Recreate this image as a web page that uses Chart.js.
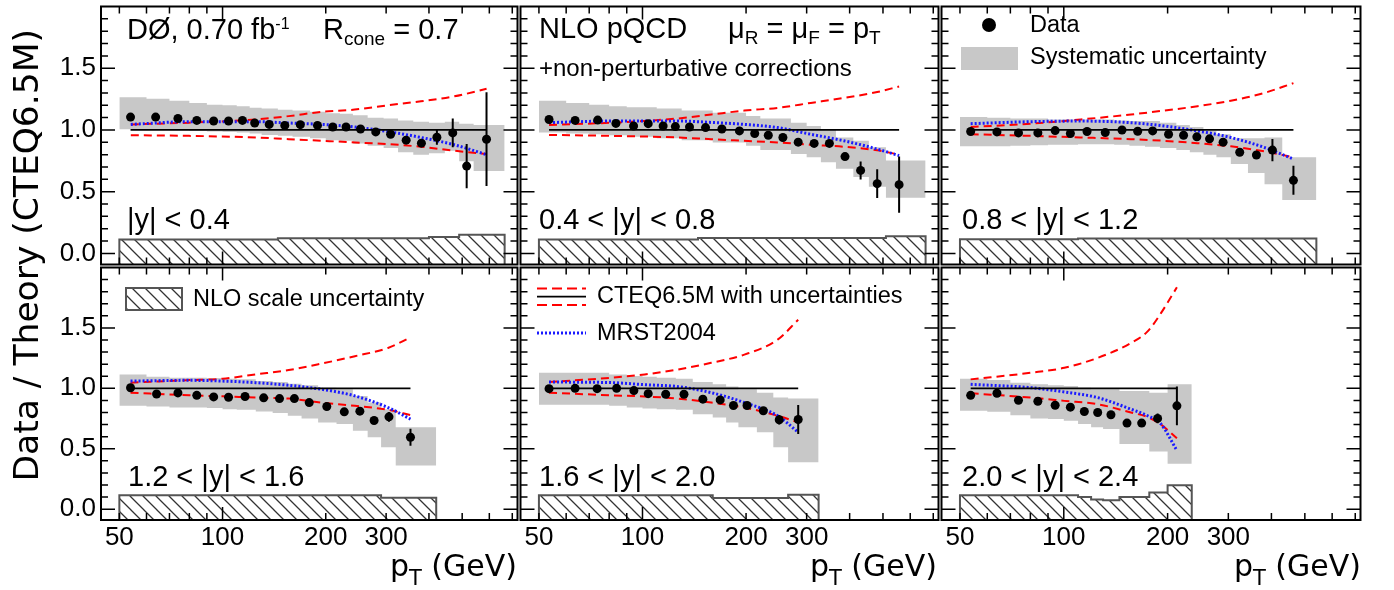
<!DOCTYPE html>
<html>
<head>
<meta charset="utf-8">
<title>Data / Theory, inclusive jets</title>
<script src="https://cdn.jsdelivr.net/npm/chart.js@4.4.0/dist/chart.umd.min.js"></script>
<style>
  body { margin: 0; background: #fff; }
  #wrap { position: relative; width: 1394px; height: 590px; overflow: hidden; font-family: "Liberation Sans", Arial, sans-serif; color: #000; }
  #wrap canvas { position: absolute; }
  #wrap svg { position: absolute; left: 0; top: 0; }
  .t { position: absolute; white-space: nowrap; line-height: 1; }
  .big { font-size: 29px; }
  .leg { font-size: 23.5px; }
  .sub { font-size: 19px; position: relative; top: 6px; }
  .dv { font-family: "DejaVu Sans", sans-serif; }
</style>
</head>
<body>
<div id="wrap">
  <canvas id="c0"></canvas><canvas id="c1"></canvas><canvas id="c2"></canvas>
  <canvas id="c3"></canvas><canvas id="c4"></canvas><canvas id="c5"></canvas>

  <!-- legend symbols -->
  <svg width="1394" height="590">
    <defs>
      <pattern id="hatch" patternUnits="userSpaceOnUse" width="13" height="13">
        <path d="M-1,-1 L14,14 M-1,12 L1,14 M12,-1 L14,1" stroke="#333" stroke-width="1.3"/>
      </pattern>
    </defs>
    <circle cx="989" cy="25" r="7" fill="#000"/>
    <rect x="961" y="47" width="57" height="23" fill="#c8c8c8"/>
    <rect x="126" y="288" width="56" height="22" fill="url(#hatch)" stroke="#555" stroke-width="2"/>
    <line x1="537" y1="288.5" x2="586" y2="288.5" stroke="#f00" stroke-width="2" stroke-dasharray="10 5"/>
    <line x1="537" y1="296.7" x2="586" y2="296.7" stroke="#000" stroke-width="1.8"/>
    <line x1="537" y1="305" x2="586" y2="305" stroke="#f00" stroke-width="2" stroke-dasharray="10 5"/>
    <line x1="537" y1="333" x2="586" y2="333" stroke="#1a1aff" stroke-width="3" stroke-dasharray="2 2"/>
  </svg>

  <div class="t big" style="left:127px;top:15px">DØ, 0.70 fb<span style="font-size:16px;position:relative;top:-10px">-1</span></div>
  <div class="t big" style="left:323px;top:15px">R<span class="sub">cone</span> = 0.7</div>
  <div class="t big" style="left:127px;top:205px">|y| &lt; 0.4</div>

  <div class="t big" style="left:539px;top:14px">NLO pQCD</div>
  <div class="t big" style="left:728px;top:14px">μ<span class="sub">R</span> = μ<span class="sub">F</span> = p<span class="sub">T</span></div>
  <div class="t" style="left:539px;top:56px;font-size:24px">+non-perturbative corrections</div>
  <div class="t big" style="left:539px;top:205px">0.4 &lt; |y| &lt; 0.8</div>

  <div class="t leg" style="left:1030px;top:13px">Data</div>
  <div class="t leg" style="left:1030px;top:45px">Systematic uncertainty</div>
  <div class="t big" style="left:962px;top:205px">0.8 &lt; |y| &lt; 1.2</div>

  <div class="t leg" style="left:193px;top:287px">NLO scale uncertainty</div>
  <div class="t big" style="left:128px;top:462px">1.2 &lt; |y| &lt; 1.6</div>

  <div class="t leg" style="left:597px;top:284px">CTEQ6.5M with uncertainties</div>
  <div class="t leg" style="left:597px;top:321px">MRST2004</div>
  <div class="t big" style="left:539px;top:462px">1.6 &lt; |y| &lt; 2.0</div>

  <div class="t big" style="left:962px;top:462px">2.0 &lt; |y| &lt; 2.4</div>

  <div class="t dv" style="left:-274px;top:238px;width:600px;text-align:center;font-size:34.5px;transform:rotate(-90deg)">Data / Theory (CTEQ6.5M)</div>
  <div class="t dv" style="right:877px;top:551px;font-size:30px">p<span style="font-size:21px;position:relative;top:9px">T</span> (GeV)</div>
  <div class="t dv" style="right:457px;top:551px;font-size:30px">p<span style="font-size:21px;position:relative;top:9px">T</span> (GeV)</div>
  <div class="t dv" style="right:33px;top:551px;font-size:30px">p<span style="font-size:21px;position:relative;top:9px">T</span> (GeV)</div>
</div>

<script>
// axes
const X_MIN = 44.2, X_MAX = 725;
const Y_MIN = -0.09, Y_MAX = 2.0;
const X_TICKS = [50, 60, 70, 80, 90, 100, 200, 300, 400, 500, 600, 700];
const X_MAJOR = [100];
const X_LABELS = [50, 100, 200, 300];
const Y_TICKS = [0, 0.1, 0.2, 0.3, 0.4, 0.5, 0.6, 0.7, 0.8, 0.9, 1.0, 1.1, 1.2, 1.3, 1.4, 1.5, 1.6, 1.7, 1.8, 1.9];
const Y_LABELS = [0, 0.5, 1.0, 1.5];

// |y| < 0.4
const pt_y04 = [53.9, 63.8, 74.1, 84.1, 94.2, 104.1, 114.3, 124.1, 136.8, 151.9, 168.6, 189.2, 209.6, 229.2, 252.6, 279.8, 309.2, 343.2, 380.2, 421.9, 469.3, 515.3, 588.8];
const ratio_y04 = [1.104, 1.104, 1.093, 1.077, 1.072, 1.072, 1.077, 1.056, 1.045, 1.037, 1.043, 1.037, 1.024, 1.024, 1.008, 0.984, 0.965, 0.917, 0.893, 0.941, 0.976, 0.707, 0.925];
const stat_y04 = [0.003, 0.003, 0.003, 0.003, 0.003, 0.003, 0.003, 0.004, 0.004, 0.004, 0.005, 0.005, 0.006, 0.007, 0.008, 0.01, 0.012, 0.02, 0.03, 0.06, 0.117, 0.18, 0.38];
const edges_y04 = [50, 60, 70, 80, 90, 100, 110, 120, 130, 145, 160, 180, 200, 220, 240, 265, 295, 325, 360, 400, 445, 490, 540, 665];
const sysHi_y04 = [1.264, 1.253, 1.237, 1.219, 1.205, 1.2, 1.192, 1.179, 1.173, 1.163, 1.157, 1.147, 1.136, 1.131, 1.12, 1.099, 1.093, 1.077, 1.067, 1.059, 1.067, 1.051, 1.04];
const sysLo_y04 = [1.005, 1.005, 0.997, 0.992, 0.987, 0.984, 0.979, 0.971, 0.96, 0.952, 0.944, 0.933, 0.917, 0.912, 0.891, 0.872, 0.853, 0.819, 0.8, 0.811, 0.832, 0.747, 0.667];
const scale_y04 = [0.112, 0.112, 0.112, 0.112, 0.112, 0.112, 0.112, 0.112, 0.112, 0.123, 0.123, 0.123, 0.123, 0.123, 0.123, 0.123, 0.123, 0.123, 0.123, 0.133, 0.133, 0.152, 0.152];
const thPt_y04 = [54, 80, 125, 156, 195, 243, 304, 379, 474, 589];
const cteqUp_y04 = [1.045, 1.059, 1.085, 1.112, 1.147, 1.165, 1.2, 1.232, 1.272, 1.333];
const cteqDn_y04 = [0.957, 0.952, 0.939, 0.925, 0.912, 0.899, 0.885, 0.864, 0.832, 0.805];
const mrst_y04 = [1.045, 1.067, 1.067, 1.056, 1.045, 1.024, 0.987, 0.939, 0.88, 0.8];

// 0.4 < |y| < 0.8
const pt_y08 = [53.5, 63.7, 74.1, 83.7, 94.2, 103.9, 114.8, 124.6, 137.0, 152.5, 170.1, 191.3, 211.9, 232.1, 255.9, 283.5, 315.4, 349.3, 387.8, 430.5, 481, 557];
const ratio_y08 = [1.085, 1.077, 1.08, 1.053, 1.032, 1.051, 1.032, 1.027, 1.024, 1.019, 1.008, 0.992, 0.971, 0.957, 0.939, 0.901, 0.891, 0.891, 0.784, 0.672, 0.565, 0.557];
const stat_y08 = [0.003, 0.003, 0.003, 0.003, 0.003, 0.003, 0.003, 0.004, 0.004, 0.004, 0.005, 0.005, 0.006, 0.007, 0.008, 0.01, 0.012, 0.015, 0.02, 0.073, 0.117, 0.227];
const edges_y08 = [50, 60, 70, 80, 90, 100, 110, 120, 130, 145, 160, 180, 200, 220, 240, 270, 300, 330, 365, 410, 455, 510, 665];
const sysHi_y08 = [1.237, 1.219, 1.205, 1.192, 1.184, 1.184, 1.173, 1.173, 1.157, 1.157, 1.139, 1.139, 1.112, 1.093, 1.093, 1.059, 1.032, 1.005, 0.939, 0.912, 0.859, 0.752];
const sysLo_y08 = [0.979, 0.971, 0.965, 0.957, 0.944, 0.944, 0.933, 0.933, 0.917, 0.917, 0.899, 0.899, 0.872, 0.837, 0.837, 0.805, 0.779, 0.739, 0.685, 0.619, 0.539, 0.451];
const scale_y08 = [0.112, 0.112, 0.112, 0.112, 0.112, 0.112, 0.112, 0.112, 0.112, 0.125, 0.125, 0.125, 0.125, 0.125, 0.125, 0.125, 0.125, 0.125, 0.125, 0.125, 0.125, 0.139];
const thPt_y08 = [53.5, 81.3, 126.8, 158.4, 197.7, 247, 308.4, 385.1, 481, 557];
const cteqUp_y08 = [1.04, 1.059, 1.093, 1.125, 1.157, 1.179, 1.219, 1.259, 1.307, 1.352];
const cteqDn_y08 = [0.96, 0.952, 0.939, 0.925, 0.912, 0.899, 0.88, 0.864, 0.835, 0.8];
const mrst_y08 = [1.059, 1.072, 1.072, 1.061, 1.045, 1.019, 0.965, 0.912, 0.845, 0.792];

// 0.8 < |y| < 1.2
const pt_y12 = [53.7, 64.0, 73.9, 84.1, 94.4, 104.5, 116.8, 131.9, 147.5, 163.8, 181, 201.3, 222.5, 243.1, 264.6, 289.7, 323.7, 361.9, 402.7, 463.3];
const ratio_y12 = [0.987, 0.984, 0.976, 0.976, 0.995, 0.971, 0.987, 0.979, 1.0, 0.989, 0.992, 0.965, 0.957, 0.944, 0.928, 0.901, 0.819, 0.797, 0.837, 0.592];
const stat_y12 = [0.003, 0.003, 0.003, 0.003, 0.003, 0.003, 0.004, 0.004, 0.004, 0.005, 0.005, 0.006, 0.007, 0.008, 0.01, 0.012, 0.015, 0.02, 0.09, 0.117];
const edges_y12 = [50, 60, 70, 80, 90, 100, 110, 125, 140, 155, 172, 190, 212, 232, 254, 277, 305, 342, 382, 430, 540];
const sysHi_y12 = [1.104, 1.099, 1.093, 1.093, 1.085, 1.085, 1.085, 1.085, 1.077, 1.072, 1.072, 1.059, 1.04, 1.024, 0.992, 0.965, 0.933, 0.933, 0.939, 0.779];
const sysLo_y12 = [0.867, 0.867, 0.872, 0.877, 0.88, 0.88, 0.885, 0.885, 0.88, 0.872, 0.864, 0.853, 0.837, 0.819, 0.8, 0.779, 0.725, 0.651, 0.56, 0.432];
const scale_y12 = [0.115, 0.115, 0.115, 0.115, 0.115, 0.115, 0.12, 0.12, 0.12, 0.12, 0.12, 0.12, 0.12, 0.12, 0.12, 0.12, 0.12, 0.12, 0.12, 0.12];
const thPt_y12 = [53.7, 80.4, 112.2, 156.6, 195.5, 244.2, 305, 380.7, 463.3];
const cteqUp_y12 = [1.024, 1.051, 1.085, 1.125, 1.157, 1.192, 1.237, 1.299, 1.379];
const cteqDn_y12 = [0.965, 0.952, 0.939, 0.925, 0.912, 0.893, 0.867, 0.827, 0.779];
const mrst_y12 = [1.051, 1.067, 1.072, 1.059, 1.032, 0.992, 0.939, 0.859, 0.765];

// 1.2 < |y| < 1.6
const pt_y16 = [53.9, 64.2, 74.1, 84.1, 94.2, 104.1, 116.3, 131.8, 146.6, 162, 179, 201.4, 226.5, 251.5, 276.7, 305.8, 353.3];
const ratio_y16 = [1.005, 0.953, 0.962, 0.942, 0.929, 0.926, 0.932, 0.921, 0.915, 0.915, 0.882, 0.849, 0.805, 0.811, 0.734, 0.764, 0.595];
const stat_y16 = [0.003, 0.003, 0.003, 0.003, 0.003, 0.004, 0.004, 0.004, 0.005, 0.005, 0.006, 0.007, 0.008, 0.01, 0.015, 0.04, 0.07];
const edges_y16 = [50, 60, 70, 80, 90, 100, 110, 125, 140, 155, 170, 190, 215, 240, 265, 290, 320, 420];
const sysHi_y16 = [1.115, 1.096, 1.088, 1.088, 1.085, 1.079, 1.074, 1.06, 1.052, 1.038, 1.025, 1.005, 0.992, 0.937, 0.882, 0.827, 0.677];
const sysLo_y16 = [0.855, 0.849, 0.841, 0.841, 0.838, 0.827, 0.822, 0.808, 0.795, 0.773, 0.751, 0.718, 0.704, 0.649, 0.595, 0.512, 0.362];
const scale_y16 = [0.115, 0.115, 0.115, 0.115, 0.115, 0.115, 0.115, 0.115, 0.115, 0.115, 0.115, 0.115, 0.115, 0.115, 0.115, 0.095, 0.095];
const thPt_y16 = [53.9, 80.1, 100, 124.9, 156, 194.7, 243.2, 303.8, 353.3];
const cteqUp_y16 = [1.047, 1.068, 1.079, 1.115, 1.151, 1.205, 1.266, 1.334, 1.422];
const cteqDn_y16 = [0.964, 0.942, 0.934, 0.923, 0.915, 0.882, 0.855, 0.822, 0.778];
const mrst_y16 = [1.06, 1.066, 1.06, 1.047, 1.025, 0.992, 0.937, 0.841, 0.745];

// 1.6 < |y| < 2.0
const pt_y20 = [53.5, 63.7, 73.8, 84.1, 94.4, 103.9, 116.8, 132.0, 149.8, 168.2, 183.8, 201.3, 224.5, 249.7, 283.5];
const ratio_y20 = [0.997, 1.0, 0.997, 1.0, 0.981, 0.956, 0.951, 0.951, 0.91, 0.904, 0.858, 0.858, 0.814, 0.74, 0.742];
const stat_y20 = [0.003, 0.003, 0.003, 0.004, 0.004, 0.004, 0.005, 0.005, 0.006, 0.007, 0.008, 0.01, 0.012, 0.04, 0.12];
const edges_y20 = [50, 60, 70, 80, 90, 100, 110, 125, 140, 160, 175, 190, 215, 240, 265, 325];
const sysHi_y20 = [1.129, 1.129, 1.129, 1.115, 1.101, 1.096, 1.088, 1.079, 1.052, 1.033, 1.014, 0.992, 0.964, 0.923, 0.915];
const sysLo_y20 = [0.863, 0.863, 0.863, 0.855, 0.841, 0.833, 0.827, 0.822, 0.786, 0.759, 0.718, 0.677, 0.636, 0.512, 0.389];
const scale_y20 = [0.115, 0.115, 0.115, 0.115, 0.115, 0.115, 0.115, 0.115, 0.115, 0.093, 0.093, 0.093, 0.093, 0.093, 0.12];
const thPt_y20 = [53.5, 81.3, 101.5, 126.8, 158.4, 197.7, 247, 283.5];
const cteqUp_y20 = [1.052, 1.088, 1.115, 1.156, 1.211, 1.279, 1.403, 1.567];
const cteqDn_y20 = [0.964, 0.942, 0.932, 0.915, 0.882, 0.841, 0.773, 0.718];
const mrst_y20 = [1.052, 1.047, 1.03, 1.014, 0.964, 0.882, 0.773, 0.636];

// 2.0 < |y| < 2.4
const pt_y24 = [53.7, 64.0, 73.9, 84.1, 94.4, 104.5, 114.7, 125.4, 137, 152.5, 168.2, 187.1, 212.8];
const ratio_y24 = [0.942, 0.959, 0.901, 0.893, 0.86, 0.844, 0.808, 0.8, 0.781, 0.712, 0.712, 0.751, 0.855];
const stat_y24 = [0.004, 0.004, 0.004, 0.005, 0.005, 0.005, 0.006, 0.006, 0.007, 0.008, 0.01, 0.04, 0.16];
const edges_y24 = [50, 60, 70, 80, 90, 100, 110, 120, 130, 145, 160, 177, 200, 235];
const sysHi_y24 = [1.079, 1.068, 1.047, 1.033, 1.025, 1.019, 1.005, 0.992, 0.992, 0.978, 0.978, 0.964, 1.033];
const sysLo_y24 = [0.814, 0.805, 0.778, 0.751, 0.745, 0.732, 0.704, 0.677, 0.663, 0.54, 0.54, 0.477, 0.375];
const scale_y24 = [0.115, 0.115, 0.115, 0.115, 0.115, 0.115, 0.1, 0.08, 0.074, 0.1, 0.1, 0.137, 0.197];
const thPt_y24 = [53.7, 80.4, 100.4, 125.4, 156.6, 175, 191.3, 212.8];
const cteqUp_y24 = [1.074, 1.129, 1.17, 1.252, 1.375, 1.471, 1.622, 1.836];
const cteqDn_y24 = [0.959, 0.923, 0.896, 0.868, 0.8, 0.762, 0.7, 0.586];
const mrst_y24 = [1.033, 1.005, 0.97, 0.923, 0.827, 0.773, 0.704, 0.485];

// panel frame edges in page pixels
const COL = [101, 519, 940, 1362];
const ROW = [5, 266, 520];
const LABEL_LEFT = 40, LABEL_BOTTOM = 575;

const panels = [
  { pt: pt_y04, r: ratio_y04, st: stat_y04, edges: edges_y04, hi: sysHi_y04, lo: sysLo_y04, sc: scale_y04, th: thPt_y04, up: cteqUp_y04, dn: cteqDn_y04, mr: mrst_y04 },
  { pt: pt_y08, r: ratio_y08, st: stat_y08, edges: edges_y08, hi: sysHi_y08, lo: sysLo_y08, sc: scale_y08, th: thPt_y08, up: cteqUp_y08, dn: cteqDn_y08, mr: mrst_y08 },
  { pt: pt_y12, r: ratio_y12, st: stat_y12, edges: edges_y12, hi: sysHi_y12, lo: sysLo_y12, sc: scale_y12, th: thPt_y12, up: cteqUp_y12, dn: cteqDn_y12, mr: mrst_y12 },
  { pt: pt_y16, r: ratio_y16, st: stat_y16, edges: edges_y16, hi: sysHi_y16, lo: sysLo_y16, sc: scale_y16, th: thPt_y16, up: cteqUp_y16, dn: cteqDn_y16, mr: mrst_y16 },
  { pt: pt_y20, r: ratio_y20, st: stat_y20, edges: edges_y20, hi: sysHi_y20, lo: sysLo_y20, sc: scale_y20, th: thPt_y20, up: cteqUp_y20, dn: cteqDn_y20, mr: mrst_y20 },
  { pt: pt_y24, r: ratio_y24, st: stat_y24, edges: edges_y24, hi: sysHi_y24, lo: sysLo_y24, sc: scale_y24, th: thPt_y24, up: cteqUp_y24, dn: cteqDn_y24, mr: mrst_y24 }
];

// histogram-style points from bin edges; optional base closes the outline down to the axis
function steps(edges, vals, base) {
  const pts = [];
  if (base !== undefined) pts.push({ x: edges[0], y: base });
  vals.forEach((v, i) => {
    pts.push({ x: edges[i], y: v }, { x: edges[i + 1], y: v });
  });
  if (base !== undefined) pts.push({ x: edges[edges.length - 1], y: base });
  return pts;
}

function curve(xs, ys) {
  return xs.map((x, i) => ({ x, y: ys[i] }));
}

function isLabel(list, v) {
  return list.some(l => Math.abs(l - v) < 1e-9);
}

function hatchPattern(ctx) {
  const s = 13;
  const t = document.createElement('canvas');
  t.width = s; t.height = s;
  const g = t.getContext('2d');
  g.strokeStyle = '#333';
  g.lineWidth = 1.3;
  g.beginPath();
  g.moveTo(-1, -1); g.lineTo(s + 1, s + 1);
  g.moveTo(-1, s - 1); g.lineTo(1, s + 1);
  g.moveTo(s - 1, -1); g.lineTo(s + 1, 1);
  g.stroke();
  return ctx.createPattern(t, 'repeat');
}

// inward ticks on all four sides plus the frame, ROOT style
const frameTicks = {
  id: 'frameTicks',
  afterDraw(chart) {
    const { ctx, chartArea: a } = chart;
    const x = chart.scales.x, y = chart.scales.y;
    ctx.save();
    ctx.strokeStyle = '#000';
    ctx.lineWidth = 1.5;
    ctx.beginPath();
    X_TICKS.forEach(v => {
      const px = x.getPixelForValue(v);
      const len = X_MAJOR.includes(v) ? 13 : 7;
      ctx.moveTo(px, a.bottom); ctx.lineTo(px, a.bottom - len);
      ctx.moveTo(px, a.top); ctx.lineTo(px, a.top + len);
    });
    Y_TICKS.forEach(v => {
      const py = y.getPixelForValue(v);
      const len = isLabel(Y_LABELS, v) ? 14 : 7;
      ctx.moveTo(a.left, py); ctx.lineTo(a.left + len, py);
      ctx.moveTo(a.right, py); ctx.lineTo(a.right - len, py);
    });
    ctx.stroke();
    ctx.lineWidth = 2;
    ctx.strokeRect(a.left, a.top, a.right - a.left, a.bottom - a.top);
    ctx.restore();
  }
};

// vertical statistical error bars
function errorBars(p) {
  return {
    id: 'errorBars',
    afterDatasetsDraw(chart) {
      const { ctx } = chart;
      const x = chart.scales.x, y = chart.scales.y;
      ctx.save();
      ctx.strokeStyle = '#000';
      ctx.lineWidth = 2;
      ctx.beginPath();
      p.pt.forEach((v, k) => {
        const px = x.getPixelForValue(v);
        ctx.moveTo(px, y.getPixelForValue(p.r[k] - p.st[k]));
        ctx.lineTo(px, y.getPixelForValue(p.r[k] + p.st[k]));
      });
      ctx.stroke();
      ctx.restore();
    }
  };
}

function makeChart(i) {
  const p = panels[i];
  const c = i % 3, r = Math.floor(i / 3);
  const left = c === 0 ? LABEL_LEFT : COL[c] - 3;
  const right = COL[c + 1] + 3;
  const top = ROW[r] - 3;
  const bottom = r === 1 ? LABEL_BOTTOM : ROW[r + 1] + 3;
  const yw = c === 0 ? COL[0] - LABEL_LEFT : 0;
  const xh = r === 1 ? LABEL_BOTTOM - ROW[2] : 0;

  const cv = document.getElementById('c' + i);
  cv.width = right - left;
  cv.height = bottom - top;
  cv.style.left = left + 'px';
  cv.style.top = top + 'px';
  const ctx = cv.getContext('2d');
  const clear = 'rgba(0,0,0,0)';

  new Chart(cv, {
    type: 'line',
    data: {
      datasets: [
        { data: curve(p.pt, p.r), showLine: false, pointRadius: 4.5, pointBackgroundColor: '#000', pointBorderColor: '#000', pointBorderWidth: 0 },
        { data: [{ x: p.pt[0], y: 1 }, { x: p.pt[p.pt.length - 1], y: 1 }], borderColor: '#000', borderWidth: 1.8, pointRadius: 0 },
        { data: curve(p.th, p.mr), borderColor: '#1a1aff', borderWidth: 3, borderDash: [2, 2], pointRadius: 0, cubicInterpolationMode: 'monotone' },
        { data: curve(p.th, p.up), borderColor: '#ff0000', borderWidth: 2, borderDash: [8, 5], pointRadius: 0, cubicInterpolationMode: 'monotone' },
        { data: curve(p.th, p.dn), borderColor: '#ff0000', borderWidth: 2, borderDash: [8, 5], pointRadius: 0, cubicInterpolationMode: 'monotone' },
        { data: steps(p.edges, p.hi), borderColor: clear, borderWidth: 1, pointRadius: 0, fill: '+1', backgroundColor: '#c8c8c8' },
        { data: steps(p.edges, p.lo), borderColor: clear, borderWidth: 1, pointRadius: 0, fill: false },
        { data: steps(p.edges, p.sc, Y_MIN), borderColor: '#555', borderWidth: 2, pointRadius: 0, fill: 'start', backgroundColor: hatchPattern(ctx) }
      ]
    },
    options: {
      responsive: false,
      animation: false,
      devicePixelRatio: 1,
      events: [],
      layout: { padding: { left: c === 0 ? 0 : 3, right: 3, top: 3, bottom: r === 1 ? 0 : 3 } },
      plugins: { legend: { display: false }, tooltip: { enabled: false } },
      scales: {
        x: {
          type: 'logarithmic', min: X_MIN, max: X_MAX,
          grid: { display: false, drawTicks: false }, border: { display: false },
          ticks: {
            display: r === 1, autoSkip: false, maxRotation: 0, minRotation: 0, padding: 2,
            color: '#000', font: { family: 'Liberation Sans', size: 26 },
            callback: v => (isLabel(X_LABELS, v) ? String(v) : '')
          },
          afterBuildTicks: s => { s.ticks = X_TICKS.map(v => ({ value: v })); },
          afterFit: s => { s.height = xh; s.paddingLeft = 0; s.paddingRight = 0; }
        },
        y: {
          type: 'linear', min: Y_MIN, max: Y_MAX,
          grid: { display: false, drawTicks: false }, border: { display: false },
          ticks: {
            display: c === 0, autoSkip: false, padding: 5,
            color: '#000', font: { family: 'Liberation Sans', size: 26 },
            callback: v => (isLabel(Y_LABELS, v) ? v.toFixed(1) : '')
          },
          afterBuildTicks: s => { s.ticks = Y_TICKS.map(v => ({ value: v })); },
          afterFit: s => { s.width = yw; s.paddingTop = 0; s.paddingBottom = 0; }
        }
      }
    },
    plugins: [errorBars(p), frameTicks]
  });
}

panels.forEach((p, i) => makeChart(i));
</script>
</body>
</html>
